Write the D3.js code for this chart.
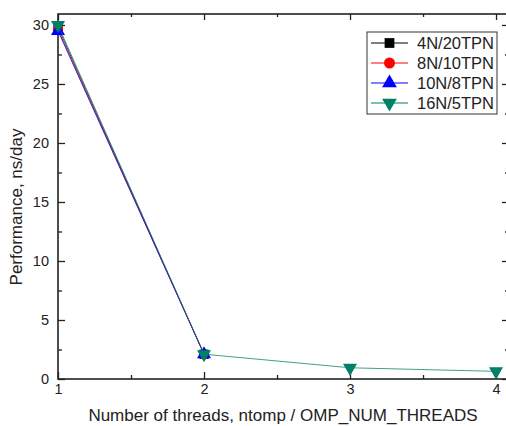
<!DOCTYPE html>
<html>
<head>
<meta charset="utf-8">
<script src="https://cdn.jsdelivr.net/npm/d3@7"></script>
<style>
  body { margin: 0; background: #fff; }
  svg { display: block; font-family: 'Liberation Sans', Arial, sans-serif; }
</style>
</head>
<body>
<div id="chart"></div>
<script>
'use strict';

// data
var threads = [1, 2, 3, 4];
var seriesNames = ['4N/20TPN', '8N/10TPN', '10N/8TPN', '16N/5TPN'];
var perf4N = [29.8, 2.1];
var perf8N = [29.6, 2.1];
var perf10N = [29.5, 2.1];
var perf16N = [30.0, 2.1, 0.95, 0.65];
var yTicks = [0, 5, 10, 15, 20, 25, 30];
var xTicks = [1, 2, 3, 4];

var colors = ['#000000', '#ff0000', '#0000ff', '#008066'];
var shapes = [d3.symbolSquare, d3.symbolCircle, d3.symbolTriangle, d3.symbolTriangle];
var flips = [false, false, false, true];
var allSeries = [perf4N, perf8N, perf10N, perf16N];

var width = 506,
  height = 426,
  plotLeft = 58,
  plotRight = 508,
  plotTop = 14,
  plotBottom = 379;

var x = d3.scaleLinear().domain([1, 4.082]).range([plotLeft, plotRight]);
var y = d3.scaleLinear().domain([0, 30.93]).range([plotBottom, plotTop]);

var svg = d3.select('#chart').append('svg')
  .attr('width', width)
  .attr('height', height);

var axisColor = '#222';

// frame
svg.append('rect')
  .attr('x', plotLeft).attr('y', plotTop)
  .attr('width', plotRight - plotLeft).attr('height', plotBottom - plotTop)
  .attr('fill', '#fff')
  .attr('stroke', axisColor)
  .attr('stroke-width', 1.6);

var minorX = d3.range(1.5, 4, 1);
var minorY = d3.range(2.5, 30, 5);

// bottom + top ticks (inward)
svg.append('g').attr('transform', 'translate(0,' + plotBottom + ')')
  .call(d3.axisBottom(x).tickValues(xTicks).tickSize(-7).tickPadding(5).tickFormat(d3.format('d')));
svg.append('g').attr('transform', 'translate(0,' + plotBottom + ')')
  .call(d3.axisBottom(x).tickValues(minorX).tickSize(-4).tickFormat(''));
svg.append('g').attr('transform', 'translate(0,' + plotTop + ')')
  .call(d3.axisTop(x).tickValues(xTicks).tickSize(-6).tickFormat(''));
svg.append('g').attr('transform', 'translate(0,' + plotTop + ')')
  .call(d3.axisTop(x).tickValues(minorX).tickSize(-3).tickFormat(''));

// left + right ticks (inward)
svg.append('g').attr('transform', 'translate(' + plotLeft + ',0)')
  .call(d3.axisLeft(y).tickValues(yTicks).tickSize(-7).tickPadding(9));
svg.append('g').attr('transform', 'translate(' + plotLeft + ',0)')
  .call(d3.axisLeft(y).tickValues(minorY).tickSize(-4).tickFormat(''));
svg.append('g').attr('transform', 'translate(' + plotRight + ',0)')
  .call(d3.axisRight(y).tickValues(yTicks).tickSize(-6).tickFormat(''));
svg.append('g').attr('transform', 'translate(' + plotRight + ',0)')
  .call(d3.axisRight(y).tickValues(minorY).tickSize(-3).tickFormat(''));

svg.selectAll('.domain').remove();
svg.selectAll('.tick line').attr('stroke', axisColor).attr('stroke-width', 1.3);
svg.selectAll('.tick text')
  .attr('fill', '#222')
  .style('font-family', "'Liberation Sans', Arial, sans-serif")
  .style('font-size', '14.5px');

// axis titles
svg.append('text')
  .attr('x', 283).attr('y', 421)
  .attr('text-anchor', 'middle')
  .attr('fill', '#222')
  .style('font-size', '17px')
  .text('Number of threads, ntomp / OMP_NUM_THREADS');

svg.append('text')
  .attr('transform', 'translate(22,' + 207 + ') rotate(-90)')
  .attr('text-anchor', 'middle')
  .attr('fill', '#222')
  .style('font-size', '17px')
  .text('Performance, ns/day');

var line = d3.line()
  .x(function(d, i) { return x(threads[i]); })
  .y(function(d) { return y(d); });

var symbolFor = function(i, size) {
  return d3.symbol().type(shapes[i]).size(size)();
};

// lines and markers, one series at a time
allSeries.forEach(function(vals, s) {
  svg.append('path')
    .datum(vals)
    .attr('d', line)
    .attr('fill', 'none')
    .attr('stroke', colors[s])
    .attr('stroke-opacity', 0.75)
    .attr('stroke-width', 1);

  svg.selectAll('.pt' + s)
    .data(vals)
    .enter()
    .append('path')
    .attr('class', 'pt' + s)
    .attr('d', symbolFor(s, 85))
    .attr('transform', function(d, i) {
      return 'translate(' + x(threads[i]) + ',' + y(d) + ')' + (flips[s] ? ' rotate(180)' : '');
    })
    .attr('fill', colors[s]);
});

// legend
var legend = svg.append('g').attr('transform', 'translate(367,32)');
legend.append('rect')
  .attr('width', 130).attr('height', 82)
  .attr('fill', '#fff')
  .attr('stroke', '#333')
  .attr('stroke-width', 1);

var rows = legend.selectAll('.row')
  .data(seriesNames)
  .enter()
  .append('g')
  .attr('class', 'row')
  .attr('transform', function(d, i) { return 'translate(0,' + (11 + i * 20) + ')'; });

rows.append('line')
  .attr('x1', 4).attr('x2', 41)
  .attr('stroke', function(d, i) { return colors[i]; })
  .attr('stroke-width', 1);

rows.append('path')
  .attr('d', function(d, i) { return symbolFor(i, 95); })
  .attr('transform', function(d, i) { return 'translate(22.5,0)' + (flips[i] ? ' rotate(180)' : ''); })
  .attr('fill', function(d, i) { return colors[i]; });

rows.append('text')
  .attr('x', 50).attr('dy', '0.36em')
  .attr('fill', '#222')
  .style('font-size', '16.5px')
  .text(function(d) { return d; });
</script>
</body>
</html>
